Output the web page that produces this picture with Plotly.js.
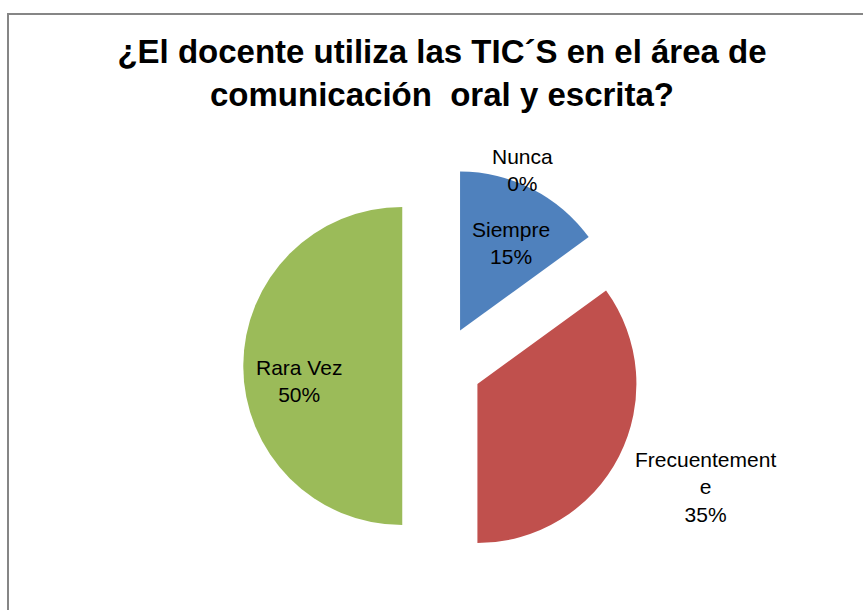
<!DOCTYPE html>
<html>
<head>
<meta charset="utf-8">
<script src="https://cdn.plot.ly/plotly-3.0.1.min.js"></script>
<style>html,body{margin:0;padding:0;background:#fff;}#chart{width:863px;height:610px;}</style>
</head>
<body>
<div id="chart"></div>
<script>
// Data
const categories = ["Siempre", "Frecuentemente", "Rara Vez", "Nunca"];
const values = [15, 35, 50, 0];
const sliceColors = ["#4F81BD", "#C0504D", "#9BBB59", "#8064A2"];
const pulls = [0.25, 0.25, 0.25, 0];
const titleText = "¿El docente utiliza las TIC´S en el área de<br>comunicación  oral y escrita?";

// Display text for labels (Excel-style wrapping of the long label)
const labelDisplay = ["Siempre", "Frecuentement<br>e", "Rara Vez", "Nunca"];
// label anchor positions in pixels (label placement only)
const labelPos = [[511, 243], [705, 487], [299, 381], [522, 170]];

const W = 863, H = 610;
const total = values.reduce((a, b) => a + b, 0);

const annotations = categories.map((c, i) => ({
  xref: "paper", yref: "paper",
  x: labelPos[i][0] / W, y: 1 - labelPos[i][1] / H,
  xanchor: "center", yanchor: "middle",
  showarrow: false,
  text: labelDisplay[i] + "<br>" + Math.round(values[i] / total * 100) + "%",
  font: {family: "Liberation Sans, Arial, sans-serif", size: 21, color: "#000"},
  align: "center"
}));

const trace = {
  type: "pie",
  labels: categories,
  values: values,
  sort: false,
  direction: "clockwise",
  rotation: 0,
  pull: pulls,
  marker: {colors: sliceColors, line: {width: 0}},
  textinfo: "none",
  hoverinfo: "label+percent",
  showlegend: false,
  domain: {x: [222 / W, 662 / W], y: [45.25 / H, 442.75 / H]}
};

const layout = {
  width: W, height: H,
  margin: {l: 0, r: 0, t: 0, b: 0},
  paper_bgcolor: "#fff",
  showlegend: false,
  title: {
    text: titleText,
    font: {family: "Liberation Sans, Arial, sans-serif", size: 33, color: "#000", weight: "bold"},
    x: 442 / W, xanchor: "center",
    y: 1 - 63 / H, yanchor: "top", yref: "container"
  },
  annotations: annotations,
  shapes: [{
    type: "rect", xref: "paper", yref: "paper",
    x0: 8 / W, x1: 1.05, y0: -0.05, y1: 1 - 14 / H,
    line: {color: "#868686", width: 2}
  }]
};

Plotly.newPlot("chart", [trace], layout, {displayModeBar: false, staticPlot: true});
</script>
</body>
</html>
